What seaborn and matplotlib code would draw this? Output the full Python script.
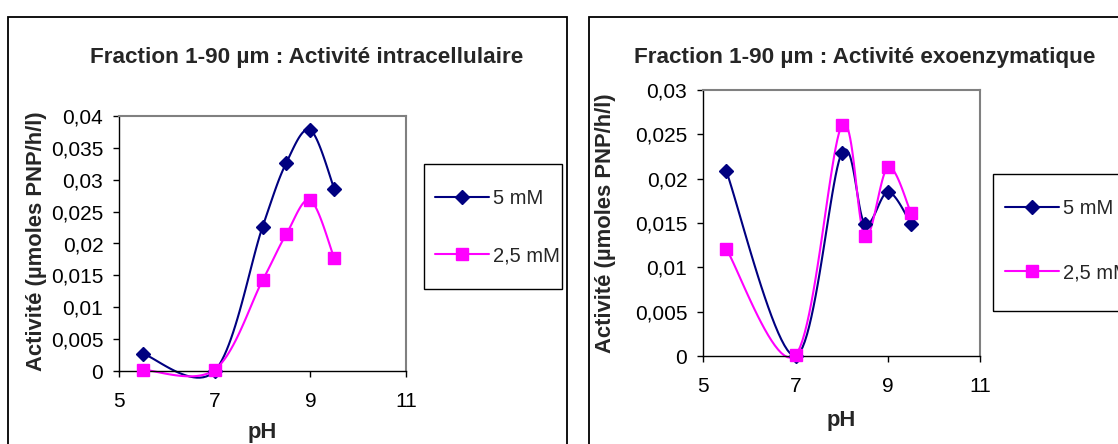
import numpy as np
import matplotlib
matplotlib.use('Agg')
import matplotlib.pyplot as plt
import seaborn as sns
from matplotlib.lines import Line2D
from matplotlib.patches import Rectangle
from matplotlib.ticker import FuncFormatter, MultipleLocator

# data
ph = [5.5, 7, 8, 8.5, 9, 9.5]
intra_5mm = [0.0027, 0.0, 0.0226, 0.0327, 0.0378, 0.0286]
intra_25mm = [0.0002, 0.0002, 0.0142, 0.0215, 0.0268, 0.0177]
exo_5mm = [0.0209, 0.0, 0.0229, 0.0149, 0.0185, 0.0149]
exo_25mm = [0.0121, 0.0001, 0.0260, 0.0135, 0.0213, 0.0161]
series_labels = ['5 mM', '2,5 mM']
titles = ['Fraction 1-90 µm : Activité intracellulaire',
          'Fraction 1-90 µm : Activité exoenzymatique']
ylabel = 'Activité (µmoles PNP/h/l)'
xlabel = 'pH'
xticks = [5, 7, 9, 11]

NAVY = '#000080'
PINK = '#FF00FF'
W, H = 1118, 444


def px_box(x0, y0, x1, y1):
    """pixel box (top-left origin) -> figure fraction [l, b, w, h]"""
    return [x0 / W, 1 - y1 / H, (x1 - x0) / W, (y1 - y0) / H]


def smooth(x, y, n=25):
    """Bezier smoothing, close to Excel's 'smoothed line' option"""
    p = np.column_stack([x, y]).astype(float)
    p = np.vstack([p[0], p, p[-1]])
    out = []
    t = np.linspace(0, 1, n)[:, None]
    for i in range(1, len(p) - 2):
        p0, p1, p2, p3 = p[i - 1], p[i], p[i + 1], p[i + 2]
        c1 = p1 + (p2 - p0) / 6
        c2 = p2 - (p3 - p1) / 6
        seg = (1 - t) ** 3 * p1 + 3 * (1 - t) ** 2 * t * c1 + 3 * (1 - t) * t ** 2 * c2 + t ** 3 * p2
        out.append(seg if i == 1 else seg[1:])
    s = np.vstack(out)
    return s[:, 0], s[:, 1]


sns.set_theme(style='ticks')
plt.rcParams['font.family'] = ['Liberation Sans', 'DejaVu Sans']

fig = plt.figure(figsize=(W / 100, H / 100), dpi=100)
fig.patch.set_facecolor('white')

comma = FuncFormatter(lambda v, _: f'{v:g}'.replace('.', ','))

panels = [
    dict(box=(119, 116, 406, 371), s5=intra_5mm, s25=intra_25mm, ymax=0.04,
         title_x=307, ylab=(37, 241), xlab=(262, 432),
         leg_box=(424, 164, 562, 289), leg_anchor=(435, 227), leg_space=1.9),
    dict(box=(703, 90, 980.5, 356), s5=exo_5mm, s25=exo_25mm, ymax=0.03,
         title_x=865, ylab=(606, 223), xlab=(841, 420),
         leg_box=(993, 174, 1140, 311), leg_anchor=(1005, 240.5), leg_space=2.25),
]

# outer chart borders
fig.patches.append(Rectangle((8 / W, -0.1), (567 - 8) / W, 1.1 - 17 / H, transform=fig.transFigure,
                             fill=False, edgecolor='black', lw=1.3))
fig.patches.append(Rectangle((589 / W, -0.1), (1140 - 589) / W, 1.1 - 17 / H, transform=fig.transFigure,
                             fill=False, edgecolor='black', lw=1.3))

for i, p in enumerate(panels):
    ax = fig.add_axes(px_box(*p['box']))
    ax.set_facecolor('white')

    xs, ys = smooth(ph, p['s5'])
    sns.lineplot(x=xs, y=ys, ax=ax, color=NAVY, lw=1.5, sort=False, estimator=None)
    xs, ys = smooth(ph, p['s25'])
    sns.lineplot(x=xs, y=ys, ax=ax, color=PINK, lw=1.5, sort=False, estimator=None)
    for ln in ax.lines:
        ln.set_clip_on(False)
    ax.plot(ph, p['s5'], 'D', ms=6.8, color=NAVY, clip_on=False, zorder=4)
    ax.plot(ph, p['s25'], 's', ms=8.2, color=PINK, clip_on=False, zorder=4)

    ax.set_xlim(5, 11)
    ax.set_xticks(xticks)
    ax.set_ylim(0, p['ymax'])
    ax.yaxis.set_major_locator(MultipleLocator(0.005))
    ax.yaxis.set_major_formatter(comma)
    ax.tick_params(direction='out', length=4.3, width=1, color='black', labelsize=15,
                   labelcolor='black')
    ax.tick_params(axis='x', pad=10.5)
    ax.tick_params(axis='y', pad=7)
    ax.set_xlabel('')
    ax.set_ylabel('')
    for side in ['left', 'bottom']:
        ax.spines[side].set_color('black')
        ax.spines[side].set_linewidth(1)
    for side in ['top', 'right']:
        ax.spines[side].set_color('#808080')
        ax.spines[side].set_linewidth(1.5)

    fig.text(p['title_x'] / W, 1 - 63 / H, titles[i], ha='center', va='baseline',
             fontsize=16.2, fontweight='bold')
    fig.text(p['ylab'][0] / W, 1 - p['ylab'][1] / H, ylabel, rotation=90, ha='center',
             va='center', fontsize=15.8, fontweight='bold')
    fig.text(p['xlab'][0] / W, 1 - p['xlab'][1] / H, xlabel, ha='center', va='center',
             fontsize=15.8, fontweight='bold')

    handles = [Line2D([], [], color=NAVY, marker='D', ms=6.8, lw=1.5),
               Line2D([], [], color=PINK, marker='s', ms=8.2, lw=1.5)]
    fig.legend(handles, series_labels, loc='center left',
               bbox_to_anchor=(p['leg_anchor'][0] / W, 1 - p['leg_anchor'][1] / H),
               bbox_transform=fig.transFigure, frameon=False, borderpad=0, borderaxespad=0,
               handlelength=2.7, handletextpad=0.2, labelspacing=p['leg_space'], fontsize=14.5)
    x0, y0, x1, y1 = p['leg_box']
    fig.patches.append(Rectangle((x0 / W, 1 - y1 / H), (x1 - x0) / W, (y1 - y0) / H,
                                 transform=fig.transFigure, fill=False, edgecolor='black', lw=1))

fig.savefig('out.png', dpi=100)
